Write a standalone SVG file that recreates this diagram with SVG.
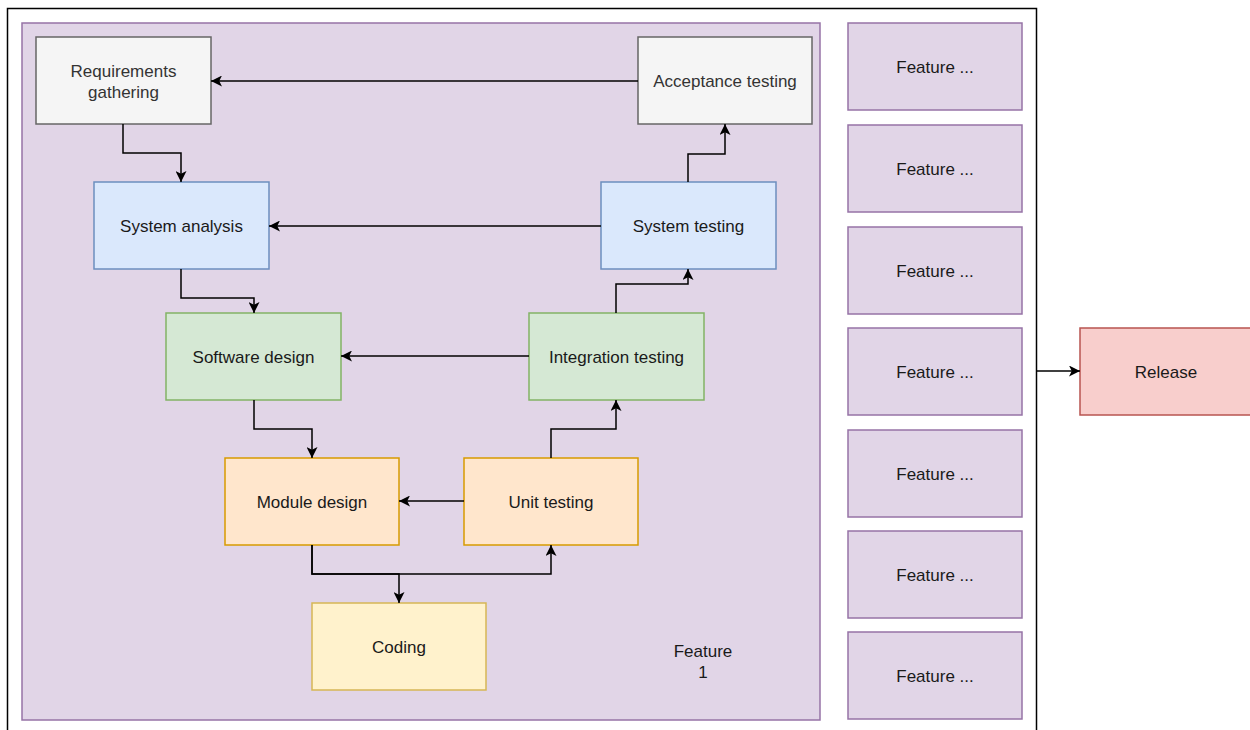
<svg xmlns="http://www.w3.org/2000/svg" width="1250" height="730" viewBox="0 0 1250 730">
<style>
text{font-family:"Liberation Sans",Arial,sans-serif;font-size:17px;fill:#1a1a1a;text-anchor:middle;dominant-baseline:central}
.gray rect{fill:#f5f5f5;stroke:#666}
.gray text{fill:#333}
.blue rect{fill:#dae8fc;stroke:#6c8ebf}
.green rect{fill:#d5e8d4;stroke:#82b366}
.orange rect{fill:#ffe6cc;stroke:#d79b00}
.yellow rect{fill:#fff2cc;stroke:#d6b656}
.purple rect{fill:#e1d5e7;stroke:#9673a6}
.red rect{fill:#f8cecc;stroke:#b85450}
rect{stroke-width:1.5}
.edge{fill:none;stroke:#000;stroke-width:1.5;marker-end:url(#arr)}
</style>
<defs>
<marker id="arr" viewBox="0 0 10 10" refX="10" refY="5" markerWidth="12" markerHeight="11" markerUnits="userSpaceOnUse" orient="auto">
<path d="M0,0 L10,5 L0,10 L2.5,5 Z" fill="#000"/>
</marker>
</defs>
<rect id="frame" x="7.5" y="8.5" width="1029" height="740" fill="#fff" stroke="#000" stroke-width="1.5"/>
<g id="feature1" class="purple"><rect x="22" y="23" width="798" height="697"/><text x="703" y="651">Feature</text><text x="703" y="672">1</text></g>
<g id="req" class="gray"><rect x="36" y="37" width="175" height="87"/><text x="123.5" y="71">Requirements</text><text x="123.5" y="92">gathering</text></g>
<g id="acc" class="gray"><rect x="638" y="37" width="174" height="87"/><text x="725" y="81">Acceptance testing</text></g>
<g id="sysan" class="blue"><rect x="94" y="182" width="175" height="87"/><text x="181.5" y="226">System analysis</text></g>
<g id="systest" class="blue"><rect x="601" y="182" width="175" height="87"/><text x="688.5" y="226">System testing</text></g>
<g id="swdesign" class="green"><rect x="166" y="313" width="175" height="87"/><text x="253.5" y="357">Software design</text></g>
<g id="inttest" class="green"><rect x="529" y="313" width="175" height="87"/><text x="616.5" y="357">Integration testing</text></g>
<g id="moddesign" class="orange"><rect x="225" y="458" width="174" height="87"/><text x="312" y="502">Module design</text></g>
<g id="unittest" class="orange"><rect x="464" y="458" width="174" height="87"/><text x="551" y="502">Unit testing</text></g>
<g id="coding" class="yellow"><rect x="312" y="603" width="174" height="87"/><text x="399" y="647">Coding</text></g>
<g id="f2" class="purple"><rect x="848" y="23" width="174" height="87"/><text x="935" y="67">Feature ...</text></g>
<g id="f3" class="purple"><rect x="848" y="125" width="174" height="87"/><text x="935" y="169">Feature ...</text></g>
<g id="f4" class="purple"><rect x="848" y="227" width="174" height="87"/><text x="935" y="271">Feature ...</text></g>
<g id="f5" class="purple"><rect x="848" y="328" width="174" height="87"/><text x="935" y="372">Feature ...</text></g>
<g id="f6" class="purple"><rect x="848" y="430" width="174" height="87"/><text x="935" y="474">Feature ...</text></g>
<g id="f7" class="purple"><rect x="848" y="531" width="174" height="87"/><text x="935" y="575">Feature ...</text></g>
<g id="f8" class="purple"><rect x="848" y="632" width="174" height="87"/><text x="935" y="676">Feature ...</text></g>
<g id="release" class="red"><rect x="1080" y="328" width="175" height="87"/><text x="1166" y="372">Release</text></g>
<g id="connectors">
<path class="edge" d="M638,81 H211"/>
<path class="edge" d="M123,124 V153 H181 V182"/>
<path class="edge" d="M688,182 V154 H725 V124"/>
<path class="edge" d="M601,226 H269"/>
<path class="edge" d="M181,269 V298 H254 V313"/>
<path class="edge" d="M616,313 V284 H688 V269"/>
<path class="edge" d="M529,356 H341"/>
<path class="edge" d="M254,400 V429 H312 V458"/>
<path class="edge" d="M551,458 V429 H616 V400"/>
<path class="edge" d="M464,501 H399"/>
<path class="edge" d="M312,545 V574 H399 V603"/>
<path class="edge" d="M312,545 V574 H551 V545"/>
<path class="edge" d="M1036,371 H1080"/>
</g>
</svg>
